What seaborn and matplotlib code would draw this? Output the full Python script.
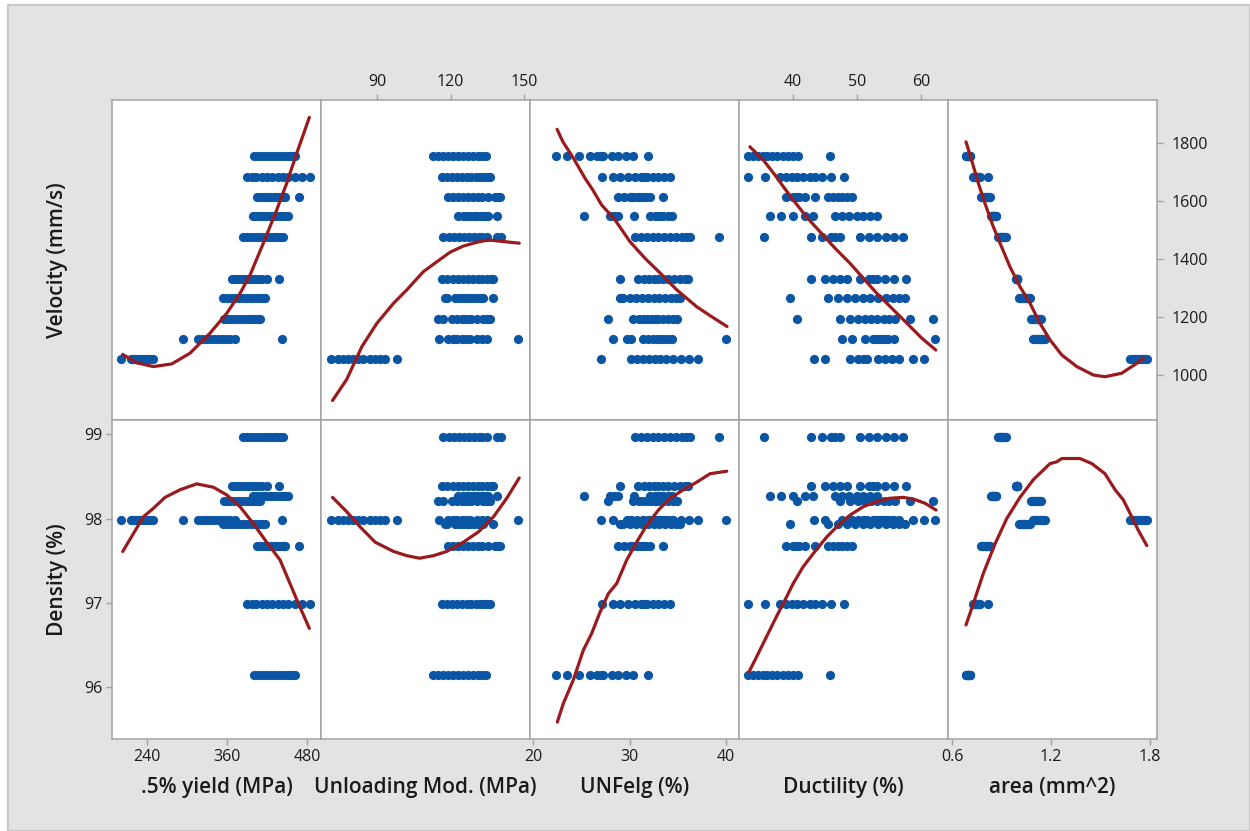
import numpy as np
import pandas as pd
import matplotlib
matplotlib.use("Agg")
import matplotlib.pyplot as plt
from matplotlib.patches import Rectangle
import seaborn as sns

# ---------------- data (one entry per print setting) ----------------
velocity_mm_s = [1755, 1683, 1612, 1547, 1475, 1331, 1264, 1193, 1123, 1056]
density_pct = [96.15, 96.99, 97.67, 98.27, 98.97, 98.39, 97.94, 98.21, 97.98, 97.98]

yield_mpa = [
    [400, 406, 412, 418, 424, 430, 436, 442, 448, 453, 458, 462],
    [390, 397, 404, 412, 420, 428, 436, 444, 452, 462, 472, 484],
    [405, 410, 415, 420, 425, 430, 434, 438, 442, 445, 447, 468],
    [399, 404, 409, 414, 419, 424, 429, 434, 439, 443, 447, 451],
    [384, 390, 396, 402, 408, 414, 420, 425, 430, 435, 440, 444],
    [367, 372, 377, 382, 387, 392, 397, 402, 407, 413, 420, 438],
    [354, 360, 366, 372, 378, 384, 390, 396, 402, 408, 413, 417],
    [355, 360, 365, 370, 376, 382, 388, 393, 398, 402, 406, 409],
    [294, 316, 322, 328, 334, 340, 346, 352, 358, 365, 372, 442],
    [201, 216, 219, 222, 225, 228, 231, 234, 237, 240, 245, 249],
]
unloading_mod_mpa = [
    [113, 115, 117, 119, 121, 123, 125, 127, 129, 131, 133, 134.4],
    [116.4, 118.5, 120.5, 122.5, 124.5, 126.5, 128.5, 130.5, 132, 133.5, 135, 136.1],
    [119.1, 121.1, 123, 125, 127, 129, 131, 133, 135.4, 138.2, 139.2, 140.2],
    [123.2, 125, 126.5, 128, 129.5, 131, 132.5, 133.5, 134.5, 135.4, 138.9, 130],
    [117, 119.5, 121.5, 123.5, 125.5, 127.5, 129.5, 131.5, 133, 134.8, 139, 140.6],
    [116.4, 118.5, 121, 123, 125, 127, 129, 131, 133, 135, 136.5, 137.5],
    [117.8, 118.5, 121.8, 123.5, 125, 126.5, 128, 129.5, 131, 132.5, 133.4, 137.1],
    [114.8, 117, 120.5, 122.5, 124.5, 126.5, 128.5, 130.7, 133.4, 134.8, 136.1, 125.5],
    [115.4, 118.9, 120.8, 122.7, 124.5, 126.3, 128, 130.7, 132.7, 134.8, 147.7, 121.5],
    [71.1, 74.2, 76.2, 78.2, 80.3, 82.4, 84.4, 87.1, 89.1, 91.2, 93.3, 98],
]
unfelg_pct = [
    [22.4, 23.5, 24.8, 25.9, 26.6, 27.3, 28.2, 28.8, 29.6, 30.4, 31.9, 27.0],
    [27.2, 28.3, 29.0, 29.8, 30.6, 31.2, 31.8, 32.4, 33.0, 33.6, 34.2, 31.5],
    [28.8, 29.4, 30.0, 30.4, 30.8, 31.0, 31.2, 31.4, 31.7, 32.1, 33.5, 30.2],
    [25.3, 28.0, 28.8, 30.5, 32.1, 32.6, 33.0, 33.5, 34.0, 34.4, 33.2, 28.4],
    [30.6, 31.2, 31.8, 32.4, 33.0, 33.6, 34.2, 34.8, 35.4, 35.9, 36.3, 39.3],
    [29.0, 30.9, 31.5, 32.0, 32.5, 33.0, 33.5, 34.0, 34.6, 35.2, 35.7, 36.1],
    [29.0, 29.3, 30.1, 30.7, 31.3, 31.9, 32.5, 33.1, 33.7, 34.3, 34.8, 35.2],
    [27.8, 30.4, 31.0, 31.4, 31.8, 32.2, 32.6, 33.0, 33.5, 34.0, 34.5, 34.9],
    [28.3, 29.7, 30.2, 31.4, 31.9, 32.4, 32.8, 33.2, 33.6, 34.0, 34.4, 40.0],
    [27.0, 30.2, 30.8, 31.4, 32.0, 32.6, 33.2, 33.8, 34.5, 35.3, 36.2, 37.1],
]
ductility_pct = [
    [33.0, 33.8, 34.6, 35.3, 36.0, 36.8, 37.6, 38.4, 39.2, 40.0, 40.8, 45.8],
    [33.0, 35.7, 38.0, 38.9, 39.8, 40.7, 41.6, 42.6, 43.5, 44.5, 46.0, 47.9],
    [39.0, 40.0, 41.0, 41.9, 43.4, 45.5, 46.3, 47.0, 47.7, 48.5, 49.2, 40.5],
    [36.4, 38.2, 40.05, 41.9, 43.2, 46.6, 47.7, 48.8, 50.0, 51.0, 52.0, 53.1],
    [35.5, 42.8, 44.5, 45.9, 47.3, 50.5, 51.8, 53.1, 54.5, 55.8, 57.2, 46.5],
    [42.8, 45.0, 46.2, 47.3, 48.4, 50.5, 51.8, 53.1, 54.4, 55.7, 57.6, 52.5],
    [39.5, 45.5, 47.1, 48.4, 49.7, 50.9, 52.1, 53.3, 54.5, 55.6, 56.6, 57.5],
    [40.6, 47.3, 48.9, 50.2, 51.2, 52.2, 53.2, 54.2, 55.0, 55.9, 58.3, 61.8],
    [47.6, 49.2, 51.25, 52.5, 53.3, 54.1, 54.9, 55.7, 53.7, 52.9, 62.2, 54.5],
    [43.3, 45.0, 48.9, 50.2, 50.9, 51.5, 53.3, 54.4, 55.5, 56.5, 58.8, 60.4],
]
area_mm2 = [
    [0.683, 0.686, 0.689, 0.692, 0.695, 0.698, 0.700, 0.702, 0.705, 0.707, 0.709, 0.711],
    [0.729, 0.733, 0.737, 0.741, 0.745, 0.749, 0.753, 0.757, 0.761, 0.765, 0.770, 0.820],
    [0.774, 0.779, 0.784, 0.789, 0.794, 0.799, 0.805, 0.810, 0.815, 0.820, 0.825, 0.830],
    [0.838, 0.841, 0.844, 0.846, 0.849, 0.851, 0.854, 0.857, 0.859, 0.862, 0.865, 0.867],
    [0.879, 0.883, 0.888, 0.892, 0.897, 0.901, 0.905, 0.910, 0.914, 0.918, 0.923, 0.927],
    [0.990, 0.991, 0.992, 0.992, 0.993, 0.993, 0.992, 0.991, 0.994, 0.990, 0.992, 0.993],
    [1.006, 1.012, 1.018, 1.024, 1.030, 1.036, 1.042, 1.048, 1.054, 1.060, 1.066, 1.073],
    [1.080, 1.085, 1.091, 1.096, 1.102, 1.107, 1.113, 1.118, 1.124, 1.129, 1.135, 1.140],
    [1.093, 1.100, 1.106, 1.113, 1.119, 1.126, 1.132, 1.139, 1.145, 1.152, 1.158, 1.165],
    [1.679, 1.688, 1.697, 1.706, 1.716, 1.725, 1.734, 1.743, 1.752, 1.761, 1.770, 1.780],
]

# smoother curves
fit_yield_vel_x = [203.6, 224.5, 249.5, 277, 304.5, 334.5, 359.5, 379.5, 394.5, 414.5, 434.5, 449.5, 464.5, 483.5]
fit_yield_vel_y = [1071, 1042, 1029, 1038, 1075, 1144, 1212, 1281, 1344, 1454, 1568, 1660, 1763, 1887]
fit_um_vel_x = [71.8, 77.6, 83.8, 89.9, 96.7, 102.1, 108.9, 114.4, 119.8, 125.2, 130.7, 135.4, 142.2, 148]
fit_um_vel_y = [912, 985, 1098, 1178, 1247, 1293, 1356, 1390, 1423, 1444, 1457, 1465, 1459, 1454]
fit_unf_vel_x = [22.5, 23.1, 24.2, 25.4, 26.2, 27.1, 28.5, 30.05, 31.6, 33.2, 34.9, 36.96, 38.5, 40.1]
fit_unf_vel_y = [1846, 1803, 1746, 1677, 1637, 1586, 1534, 1459, 1402, 1350, 1293, 1235, 1201, 1167]
fit_duct_vel_x = [33.3, 35.4, 37.2, 38.5, 40.05, 42.1, 44.2, 46.6, 48.9, 51.0, 53.1, 55.2, 57.8, 60.1, 62.3]
fit_duct_vel_y = [1786, 1740, 1689, 1649, 1603, 1545, 1494, 1436, 1385, 1333, 1281, 1235, 1178, 1127, 1086]
fit_area_vel_x = [0.685, 0.719, 0.76, 0.80, 0.85, 0.90, 0.951, 1.012, 1.073, 1.133, 1.194, 1.265, 1.356, 1.456, 1.527, 1.628, 1.719, 1.759]
fit_area_vel_y = [1803, 1740, 1660, 1591, 1511, 1442, 1373, 1304, 1247, 1178, 1121, 1069, 1029, 1000, 994, 1006, 1040, 1058]

fit_yield_den_x = [203.6, 219.5, 234.5, 249.5, 267, 289.5, 314.5, 339.5, 359.5, 379.5, 399.5, 419.5, 439.5, 454.5, 469.5, 483.5]
fit_yield_den_y = [97.61, 97.82, 98.02, 98.12, 98.25, 98.34, 98.41, 98.37, 98.28, 98.14, 97.94, 97.72, 97.51, 97.23, 96.95, 96.70]
fit_um_den_x = [71.8, 77.6, 83.1, 89.2, 96.7, 102.1, 107.3, 113.0, 118.4, 125.2, 131.3, 137.5, 142.9, 148]
fit_um_den_y = [98.25, 98.08, 97.90, 97.72, 97.61, 97.56, 97.53, 97.56, 97.61, 97.72, 97.84, 98.02, 98.24, 98.48]
fit_unf_den_x = [22.52, 23.14, 24.18, 25.21, 26.08, 26.94, 27.80, 28.67, 29.71, 30.74, 31.78, 32.99, 34.20, 35.58, 36.96, 38.34, 40.07]
fit_unf_den_y = [95.59, 95.81, 96.09, 96.44, 96.64, 96.89, 97.11, 97.23, 97.51, 97.72, 97.92, 98.10, 98.24, 98.34, 98.43, 98.53, 98.56]
fit_duct_den_x = [33.13, 34.33, 35.89, 37.45, 38.48, 40.05, 41.61, 43.44, 45.27, 47.08, 48.91, 50.98, 53.08, 55.16, 57.23, 58.80, 60.63, 62.34]
fit_duct_den_y = [96.18, 96.36, 96.60, 96.84, 96.99, 97.23, 97.43, 97.61, 97.78, 97.92, 98.04, 98.14, 98.20, 98.24, 98.25, 98.23, 98.18, 98.10]
fit_area_den_x = [0.685, 0.729, 0.79, 0.861, 0.932, 1.012, 1.093, 1.194, 1.234, 1.265, 1.376, 1.447, 1.527, 1.588, 1.638, 1.679, 1.729, 1.78]
fit_area_den_y = [96.74, 96.99, 97.35, 97.70, 98.00, 98.25, 98.46, 98.65, 98.67, 98.71, 98.71, 98.65, 98.53, 98.34, 98.22, 98.06, 97.86, 97.68]

x_labels = [".5% yield (MPa)", "Unloading Mod. (MPa)", "UNFelg (%)", "Ductility (%)", "area (mm^2)"]
y_labels = ["Velocity (mm/s)", "Density (%)"]
yield_ticks = [240, 360, 480]
um_ticks = [90, 120, 150]
unf_ticks = [20, 30, 40]
duct_ticks = [40, 50, 60]
area_ticks = [0.6, 1.2, 1.8]
vel_ticks = [1000, 1200, 1400, 1600, 1800]
den_ticks = [96, 97, 98, 99]

# ---------------- build table ----------------
rows = []
for k in range(len(velocity_mm_s)):
    for i in range(len(yield_mpa[k])):
        rows.append({"Velocity": velocity_mm_s[k], "Density": density_pct[k],
                     "Yield": yield_mpa[k][i], "UnloadMod": unloading_mod_mpa[k][i],
                     "UNFelg": unfelg_pct[k][i], "Ductility": ductility_pct[k][i],
                     "Area": area_mm2[k][i]})
df = pd.DataFrame(rows)

x_vars = ["Yield", "UnloadMod", "UNFelg", "Ductility", "Area"]
y_vars = ["Velocity", "Density"]
fits = {
    ("Velocity", "Yield"): (fit_yield_vel_x, fit_yield_vel_y),
    ("Velocity", "UnloadMod"): (fit_um_vel_x, fit_um_vel_y),
    ("Velocity", "UNFelg"): (fit_unf_vel_x, fit_unf_vel_y),
    ("Velocity", "Ductility"): (fit_duct_vel_x, fit_duct_vel_y),
    ("Velocity", "Area"): (fit_area_vel_x, fit_area_vel_y),
    ("Density", "Yield"): (fit_yield_den_x, fit_yield_den_y),
    ("Density", "UnloadMod"): (fit_um_den_x, fit_um_den_y),
    ("Density", "UNFelg"): (fit_unf_den_x, fit_unf_den_y),
    ("Density", "Ductility"): (fit_duct_den_x, fit_duct_den_y),
    ("Density", "Area"): (fit_area_den_x, fit_area_den_y),
}
xlims = {"Yield": (187.5, 501), "UnloadMod": (67.1, 152.4), "UNFelg": (19.69, 41.34),
         "Ductility": (31.6, 64.2), "Area": (0.576, 1.842)}
ylims = {"Velocity": (845, 1947), "Density": (95.39, 99.166)}

# ---------------- style ----------------
sns.set_style("white")
plt.rcParams["font.family"] = ["Open Sans", "DejaVu Sans"]

W, H = 1250, 831
fig = plt.figure(figsize=(W / 100, H / 100), dpi=100)
fig.patch.set_facecolor("white")
bg = Rectangle((8 / W, 0), 1 - 8 / W, 1 - 5 / H, transform=fig.transFigure,
               facecolor="#e3e3e3", edgecolor="#c8c8c8", linewidth=1.5, zorder=-10)
fig.add_artist(bg)

DOT = "#0b55a5"
LINE = "#991b1e"
FRAME = "#a3a3a3"
TXT = "#1a1a1a"

col_left = [112, 321, 530, 739, 948]
col_w = 209
row_top = [100, 420]
row_h = [320, 319]

axes = {}
for r, yv in enumerate(y_vars):
    for c, xv in enumerate(x_vars):
        left = col_left[c] / W
        bottom = 1 - (row_top[r] + row_h[r]) / H
        ax = fig.add_axes([left, bottom, col_w / W, row_h[r] / H])
        ax.set_zorder(1)
        ax.set_facecolor("white")
        sns.scatterplot(data=df, x=xv, y=yv, ax=ax, color=DOT, s=44, linewidth=0, zorder=3)
        fx, fy = fits[(yv, xv)]
        sns.lineplot(x=fx, y=fy, ax=ax, color=LINE, linewidth=2.3, sort=False,
                     estimator=None, zorder=4)
        ax.set_xlim(*xlims[xv])
        ax.set_ylim(*ylims[yv])
        ax.set_xlabel("")
        ax.set_ylabel("")
        for sp in ax.spines.values():
            sp.set_color(FRAME)
            sp.set_linewidth(1.1)
        ax.tick_params(which="both", bottom=False, top=False, left=False, right=False,
                       labelbottom=False, labeltop=False, labelleft=False, labelright=False,
                       colors=FRAME, labelcolor=TXT, labelsize=11.5, length=4.5, width=1.0)
        axes[(r, c)] = ax

tick_sets = [yield_ticks, um_ticks, unf_ticks, duct_ticks, area_ticks]
for c in range(5):
    for r in range(2):
        axes[(r, c)].set_xticks(tick_sets[c])
    axes[(0, c)].set_yticks(vel_ticks)
    axes[(1, c)].set_yticks(den_ticks)

for c in (0, 2, 4):
    axes[(1, c)].tick_params(axis="x", bottom=True, labelbottom=True, pad=3)
axes[(1, 4)].set_xticklabels(["0.6", "1.2", "1.8"])
for c in (1, 3):
    axes[(0, c)].tick_params(axis="x", top=True, labeltop=True, pad=3)
axes[(0, 4)].tick_params(axis="y", right=True, labelright=True, pad=6)
axes[(1, 0)].tick_params(axis="y", left=True, labelleft=True, pad=2)

for c, lab in enumerate(x_labels):
    ax = axes[(1, c)]
    ax.set_xlabel(lab, fontsize=15, color=TXT, fontweight="semibold")
    ax.xaxis.label.set_va("center")
    ax.xaxis.set_label_coords(0.5, -48 / 319)
for r, lab in enumerate(y_labels):
    ax = axes[(r, 0)]
    ax.set_ylabel(lab, fontsize=15, color=TXT, fontweight="semibold")
    ax.yaxis.label.set_va("center")
    ax.yaxis.set_label_coords(-55 / 209, 0.5)

fig.savefig("out.png", dpi=100, facecolor=fig.get_facecolor())
